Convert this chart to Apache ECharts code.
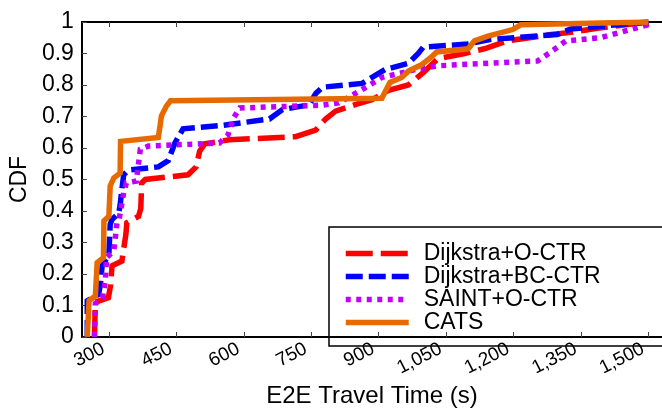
<!DOCTYPE html>
<html>
<head>
<meta charset="utf-8">
<script src="https://cdn.jsdelivr.net/npm/echarts@6/dist/echarts.min.js"></script>
<style>
  html, body { margin: 0; padding: 0; background: #fff; }
  #chart { width: 662px; height: 413px; }
</style>
</head>
<body>
<div id="chart"></div>
<script>
// E2E travel time (s) vs CDF
var seriesNames = ['Dijkstra+O-CTR', 'Dijkstra+BC-CTR', 'SAINT+O-CTR', 'CATS'];
var xTicks = [300, 450, 600, 750, 900, 1050, 1200, 1350, 1500];

var dijkstraOctr = [[268, 0], [270, 0.11], [299, 0.125], [304, 0.165], [307, 0.226], [329, 0.241], [338, 0.327],
  [340, 0.363], [366, 0.383], [371, 0.408], [373, 0.489], [381, 0.50], [476, 0.515], [494, 0.54], [502, 0.59],
  [513, 0.613], [568, 0.626], [715, 0.636], [760, 0.657], [782, 0.692], [804, 0.717], [848, 0.738], [885, 0.753],
  [922, 0.783], [966, 0.80], [999, 0.839], [1032, 0.884], [1091, 0.90], [1135, 0.915], [1187, 0.94], [1283, 0.96],
  [1327, 0.967], [1386, 0.98], [1489, 0.998], [1500, 1]];

var dijkstraBcctr = [[252, 0], [252, 0.115], [277, 0.135], [281, 0.165], [285, 0.226], [300, 0.261], [303, 0.358],
  [307, 0.373], [322, 0.393], [325, 0.418], [329, 0.469], [333, 0.515], [344, 0.53], [410, 0.54], [432, 0.56],
  [447, 0.616], [465, 0.661], [554, 0.672], [657, 0.692], [686, 0.722], [745, 0.737], [760, 0.773], [775, 0.793],
  [863, 0.805], [914, 0.849], [966, 0.869], [988, 0.90], [999, 0.92], [1098, 0.93], [1150, 0.945], [1297, 0.96],
  [1327, 0.978], [1430, 0.991], [1500, 1]];

var saintOctr = [[268, 0], [270, 0.106], [286, 0.125], [292, 0.176], [295, 0.252], [311, 0.274], [315, 0.322],
  [318, 0.362], [323, 0.374], [333, 0.459], [339, 0.489], [361, 0.495], [370, 0.596], [388, 0.606], [546, 0.616],
  [565, 0.641], [576, 0.692], [591, 0.727], [775, 0.736], [811, 0.743], [848, 0.773], [878, 0.798], [907, 0.824],
  [937, 0.834], [988, 0.851], [1032, 0.861], [1216, 0.874], [1253, 0.876], [1283, 0.905], [1316, 0.94],
  [1393, 0.95], [1444, 0.97], [1496, 0.99], [1500, 1]];

var cats = [[252, 0], [256, 0.115], [270, 0.13], [274, 0.236], [288, 0.252], [289, 0.368], [300, 0.383],
  [303, 0.48], [311, 0.505], [325, 0.52], [326, 0.621], [410, 0.633], [417, 0.702], [428, 0.733], [437, 0.75],
  [907, 0.758], [925, 0.808], [951, 0.824], [966, 0.844], [995, 0.864], [1018, 0.89], [1029, 0.905],
  [1099, 0.915], [1113, 0.94], [1143, 0.955], [1198, 0.976], [1216, 0.991], [1500, 1]];

var colors = ['#ff0000', '#0000ff', '#c000ff', '#e66a00'];
var dashes = [[27, 8], [17, 6], [5, 5.5], 'solid'];
var allData = [dijkstraOctr, dijkstraBcctr, saintOctr, cats];

var chart = echarts.init(document.getElementById('chart'));
var font = 'Liberation Sans, Arial, sans-serif';

var option = {
  animation: false,
  backgroundColor: '#fff',
  grid: { left: 78, right: 0, top: 22, bottom: 62 },
  legend: {
    orient: 'vertical',
    left: 329,
    top: 227,
    padding: [15, 80, 12, 14],
    borderColor: '#000',
    borderWidth: 1.5,
    itemWidth: 63,
    itemHeight: 10,
    itemGap: 0,
    itemStyle: { opacity: 0 },
    lineStyle: { width: 5.5 },
    textStyle: { fontSize: 23, lineHeight: 23, color: '#000', fontFamily: font, padding: [0, 0, 0, 10] },
    data: seriesNames
  },
  xAxis: [{
    type: 'value',
    min: 240,
    max: 1530,
    name: 'E2E Travel Time (s)',
    nameLocation: 'middle',
    nameGap: 39,
    nameTextStyle: { fontSize: 24, color: '#000', fontFamily: font },
    axisLine: { show: true, lineStyle: { color: '#000', width: 2 } },
    axisTick: { show: true, inside: true, length: 5, customValues: xTicks, lineStyle: { color: '#444' } },
    axisLabel: {
      rotate: 27, margin: 8, fontSize: 19, color: '#000', fontFamily: font,
      padding: [0, 6, 0, 0], customValues: xTicks
    },
    splitLine: { show: false }
  }, {
    type: 'value',
    position: 'top',
    min: 240,
    max: 1530,
    axisLine: { show: true, lineStyle: { color: '#000', width: 2 } },
    axisTick: { show: true, inside: true, length: 5, customValues: xTicks, lineStyle: { color: '#444' } },
    axisLabel: { show: false },
    splitLine: { show: false }
  }],
  yAxis: {
    type: 'value',
    min: 0,
    max: 1,
    interval: 0.1,
    name: 'CDF',
    nameLocation: 'middle',
    nameGap: 40,
    nameTextStyle: { fontSize: 23, color: '#000', fontFamily: font },
    axisLine: { show: true, lineStyle: { color: '#000', width: 2 } },
    axisTick: { show: true, inside: true, length: 5, lineStyle: { color: '#444' } },
    axisLabel: { margin: 8, fontSize: 23, color: '#000', fontFamily: font },
    splitLine: { show: false }
  },
  series: seriesNames.map(function (name, i) {
    return {
      name: name,
      type: 'line',
      xAxisIndex: 0,
      data: allData[i],
      symbol: 'none',
      color: colors[i],
      lineStyle: { color: colors[i], width: 5.5, type: dashes[i], cap: 'butt', join: 'miter' }
    };
  })
};

chart.setOption(option);
</script>
</body>
</html>
